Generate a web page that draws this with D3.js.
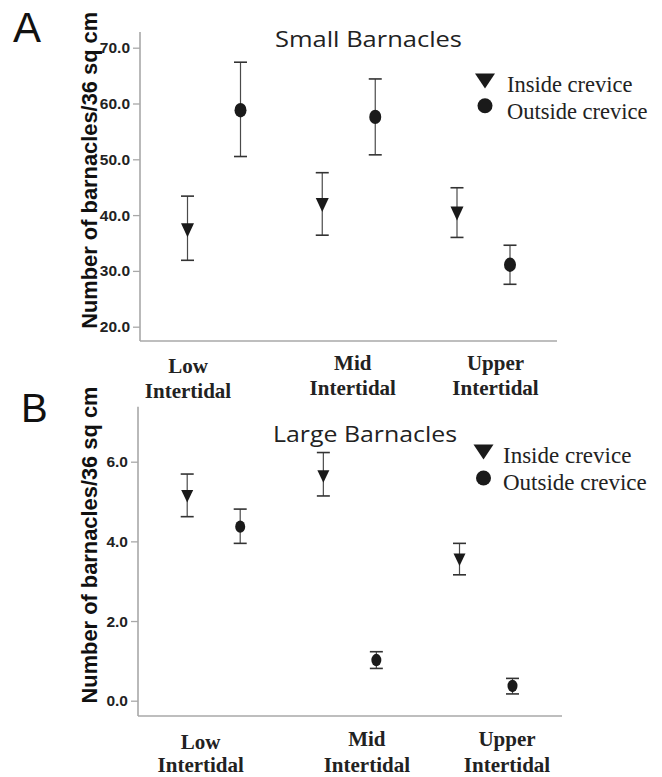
<!DOCTYPE html>
<html>
<head>
<meta charset="utf-8">
<script src="https://cdn.jsdelivr.net/npm/d3@7"></script>
<style>
  html, body { margin: 0; padding: 0; background: #fff; }
  svg { display: block; }
</style>
</head>
<body>
<script>
// ---------- DATA ----------
const categories = ["Low Intertidal", "Mid Intertidal", "Upper Intertidal"];
const categoryLines = [["Low", "Intertidal"], ["Mid", "Intertidal"], ["Upper", "Intertidal"]];
const seriesNames = ["Inside crevice", "Outside crevice"];

const smallInsideMean  = [37.3, 41.8, 40.3];
const smallInsideLow   = [31.9, 36.4, 36.0];
const smallInsideHigh  = [43.4, 47.6, 44.9];
const smallOutsideMean = [58.8, 57.6, 31.1];
const smallOutsideLow  = [50.5, 50.8, 27.6];
const smallOutsideHigh = [67.4, 64.4, 34.6];

const largeInsideMean  = [5.13, 5.63, 3.54];
const largeInsideLow   = [4.62, 5.14, 3.16];
const largeInsideHigh  = [5.69, 6.23, 3.95];
const largeOutsideMean = [4.37, 1.02, 0.37];
const largeOutsideLow  = [3.95, 0.81, 0.17];
const largeOutsideHigh = [4.81, 1.23, 0.56];

const smallTicks = [20, 30, 40, 50, 60, 70];
const largeTicks = [0, 2, 4, 6];

const yLabel = "Number of barnacles/36 sq cm";

// ---------- LAYOUT ----------
const W = 662, H = 777;
const svg = d3.select("body").append("svg").attr("width", W).attr("height", H);

const panels = [
  {
    letter: "A", letterX: 13, letterY: 42, letterSize: 42,
    title: "Small Barnacles", titleX: 275, titleY: 47, titleW: 187,
    axisX: 140, axisTop: 32, axisBottom: 341, axisRight: 557,
    domain: [20, 70], rangeY: [326.7, 47.7], ticks: smallTicks,
    xRange: [214, 483.5], offset: 26.5,
    means: [smallInsideMean, smallOutsideMean],
    lows: [smallInsideLow, smallOutsideLow],
    highs: [smallInsideHigh, smallOutsideHigh],
    triW: 13, triH: 14, ellRx: 6, ellRy: 7.2,
    yLabelX: 96.5, yLabelY: 170.3, yLabelLen: 317,
    labelDx: [-26, 4, 12], labelY1: [373, 370, 370], labelY2: [398, 395, 395],
    legX: 485, legTriY: 81, legCircY: 105.7, legTextX: 507, legText1Y: 91.5, legText2Y: 119.3, legSize: 22.5
  },
  {
    letter: "B", letterX: 21, letterY: 422, letterSize: 40,
    title: "Large Barnacles", titleX: 273, titleY: 441.5, titleW: 184,
    axisX: 138, axisTop: 406.7, axisBottom: 716, axisRight: 562,
    domain: [0, 6], rangeY: [700.7, 461.7], ticks: largeTicks,
    xRange: [213.7, 486], offset: 26.5,
    means: [largeInsideMean, largeOutsideMean],
    lows: [largeInsideLow, largeOutsideLow],
    highs: [largeInsideHigh, largeOutsideHigh],
    triW: 12, triH: 12.5, ellRx: 5, ellRy: 6.2,
    yLabelX: 96.5, yLabelY: 545, yLabelLen: 317,
    labelDx: [-13, 17, 21], labelY1: [749, 746, 746], labelY2: [772, 772, 772],
    legX: 483.5, legTriY: 452, legCircY: 478, legTextX: 503, legText1Y: 463, legText2Y: 490, legSize: 23
  }
];

const axisColor = "#a8a8a8";
const barColor = "#4a4a4a";
const markColor = "#1a1a1a";

function triPath(cx, cy, w, h) {
  return `M${cx - w / 2},${cy - h / 2}L${cx + w / 2},${cy - h / 2}L${cx},${cy + h / 2}Z`;
}

panels.forEach(p => {
  const g = svg.append("g");
  const y = d3.scaleLinear().domain(p.domain).range(p.rangeY);
  const x = d3.scalePoint().domain(categories).range(p.xRange);

  // panel letter
  g.append("text").attr("x", p.letterX).attr("y", p.letterY)
    .attr("font-family", "Liberation Sans, Arial, sans-serif")
    .attr("font-size", p.letterSize).attr("fill", "#111").text(p.letter);

  // title
  g.append("text").attr("x", p.titleX).attr("y", p.titleY)
    .attr("font-family", "Open Sans, sans-serif")
    .attr("font-size", 21).attr("fill", "#222")
    .attr("textLength", p.titleW).attr("lengthAdjust", "spacingAndGlyphs")
    .text(p.title);

  // y axis with ticks
  const yAxis = d3.axisLeft(y).tickValues(p.ticks).tickSize(7).tickPadding(3)
    .tickFormat(d3.format(".1f"));
  const ay = g.append("g").attr("transform", `translate(${p.axisX},0)`).call(yAxis);
  ay.select(".domain").remove();
  ay.selectAll(".tick line").attr("stroke", axisColor).attr("stroke-width", 1.3);
  ay.selectAll(".tick text")
    .attr("font-family", "Liberation Sans Narrow, Arial Narrow, Liberation Sans, sans-serif")
    .attr("font-weight", "bold").attr("font-size", 15.5).attr("fill", "#222");

  // axis lines
  g.append("line").attr("x1", p.axisX).attr("x2", p.axisX)
    .attr("y1", p.axisTop).attr("y2", p.axisBottom)
    .attr("stroke", axisColor).attr("stroke-width", 1.6);
  g.append("line").attr("x1", p.axisX).attr("x2", p.axisRight)
    .attr("y1", p.axisBottom).attr("y2", p.axisBottom)
    .attr("stroke", axisColor).attr("stroke-width", 1.6);

  // y label
  g.append("text")
    .attr("transform", `translate(${p.yLabelX},${p.yLabelY}) rotate(-90)`)
    .attr("text-anchor", "middle")
    .attr("font-family", "Liberation Sans, Arial, sans-serif")
    .attr("font-weight", "bold").attr("font-size", 22).attr("fill", "#111")
    .attr("textLength", p.yLabelLen).attr("lengthAdjust", "spacingAndGlyphs")
    .text(yLabel);

  // category labels
  categories.forEach((c, i) => {
    const cx = x(c) + p.labelDx[i];
    const t = g.append("text").attr("text-anchor", "middle")
      .attr("font-family", "Liberation Serif, Times New Roman, serif")
      .attr("font-weight", "bold").attr("font-size", 21).attr("fill", "#222");
    t.append("tspan").attr("x", cx).attr("y", p.labelY1[i]).text(categoryLines[i][0]);
    t.append("tspan").attr("x", cx).attr("y", p.labelY2[i]).text(categoryLines[i][1]);
  });

  // error bars + markers
  [0, 1].forEach(s => {
    const off = s === 0 ? -p.offset : p.offset;
    categories.forEach((c, i) => {
      const cx = x(c) + off;
      const yh = y(p.highs[s][i]), yl = y(p.lows[s][i]), ym = y(p.means[s][i]);
      g.append("line").attr("x1", cx).attr("x2", cx).attr("y1", yh).attr("y2", yl)
        .attr("stroke", barColor).attr("stroke-width", 1.2);
      [yh, yl].forEach(yy => {
        g.append("line").attr("x1", cx - 6.5).attr("x2", cx + 6.5)
          .attr("y1", yy).attr("y2", yy)
          .attr("stroke", "#333").attr("stroke-width", 1.6);
      });
      if (s === 0) {
        g.append("path").attr("d", triPath(cx, ym, p.triW, p.triH)).attr("fill", markColor);
      } else {
        g.append("ellipse").attr("cx", cx).attr("cy", ym)
          .attr("rx", p.ellRx).attr("ry", p.ellRy).attr("fill", markColor);
      }
    });
  });

  // legend
  g.append("path").attr("d", triPath(p.legX, p.legTriY, 20, 15)).attr("fill", markColor);
  g.append("circle").attr("cx", p.legX).attr("cy", p.legCircY).attr("r", 7.5).attr("fill", markColor);
  g.append("text").attr("x", p.legTextX).attr("y", p.legText1Y)
    .attr("font-family", "Liberation Serif, Times New Roman, serif")
    .attr("font-size", p.legSize).attr("fill", "#222").text(seriesNames[0]);
  g.append("text").attr("x", p.legTextX).attr("y", p.legText2Y)
    .attr("font-family", "Liberation Serif, Times New Roman, serif")
    .attr("font-size", p.legSize).attr("fill", "#222").text(seriesNames[1]);
});
</script>
</body>
</html>
